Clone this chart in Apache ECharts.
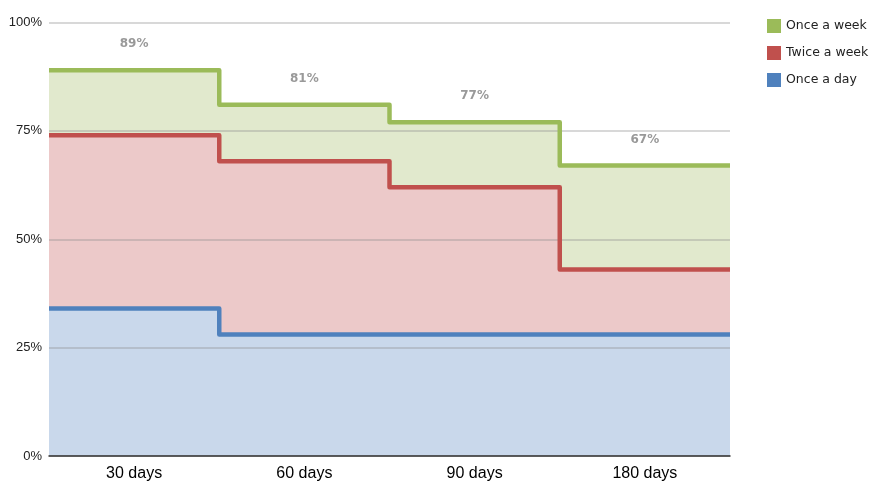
<!DOCTYPE html>
<html>
<head>
<meta charset="utf-8">
<script src="https://cdn.jsdelivr.net/npm/echarts@6/dist/echarts.min.js"></script>
<style>html,body{margin:0;padding:0;background:#fff;}#c{width:877px;height:484px;}</style>
</head>
<body>
<div id="c"></div>
<script>
const categories = ['30 days', '60 days', '90 days', '180 days'];
const onceADay = [34, 28, 28, 28];
const twiceAWeek = [40, 40, 34, 15];
const onceAWeek = [15, 13, 15, 24];
const yTicks = [0, 25, 50, 75, 100];

// cumulative tops (stack computed here so each area fills down to the axis and lower layers cover it)
const topDay = onceADay.slice();
const topTwice = categories.map((_, i) => onceADay[i] + twiceAWeek[i]);
const topWeek = categories.map((_, i) => onceADay[i] + twiceAWeek[i] + onceAWeek[i]);

function stepData(arr) {
  const d = arr.map((v, i) => [i, v]);
  d.push([arr.length, arr[arr.length - 1]]);
  return d;
}
function areaSeries(name, arr, color, fill) {
  return {
    name: name, type: 'line', xAxisIndex: 1, step: 'end',
    data: stepData(arr), symbol: 'none', showSymbol: false,
    itemStyle: { color: color },
    lineStyle: { width: 0, opacity: 0, color: color },
    areaStyle: { color: fill, opacity: 1 },
    silent: true, z: 0
  };
}
function lineSeries(name, arr, color) {
  return {
    name: name, type: 'line', xAxisIndex: 1, step: 'end',
    data: stepData(arr), symbol: 'none', showSymbol: false,
    lineStyle: { color: color, width: 4.5, join: 'round', cap: 'butt' },
    itemStyle: { color: color },
    z: 3
  };
}
const chart = echarts.init(document.getElementById('c'), null, { renderer: 'canvas' });
chart.setOption({
  animation: false,
  grid: { left: 49, right: 147, top: 22.5, bottom: 28, containLabel: false },
  legend: {
    orient: 'vertical', left: 762, top: 14, itemWidth: 14, itemHeight: 14, itemGap: 13,
    icon: 'rect',
    data: ['Once a week', 'Twice a week', 'Once a day'],
    textStyle: { fontFamily: 'DejaVu Sans', fontSize: 12.5, color: '#222' }
  },
  xAxis: [
    {
      type: 'category', data: categories, boundaryGap: true,
      axisTick: { show: false },
      axisLine: { lineStyle: { color: '#333', width: 1.5 } },
      axisLabel: { fontFamily: 'Liberation Sans', fontSize: 16, color: '#000', margin: 10 },
      splitLine: { show: false }, z: 4
    },
    { type: 'value', min: 0, max: categories.length, show: false }
  ],
  yAxis: {
    type: 'value', min: yTicks[0], max: yTicks[yTicks.length - 1], interval: 25,
    axisLine: { show: false }, axisTick: { show: false },
    axisLabel: { formatter: '{value}%', fontFamily: 'Liberation Sans', fontSize: 13, color: '#222', margin: 7 },
    splitLine: { lineStyle: { color: 'rgba(140,140,140,0.45)', width: 1.5 } },
    z: 1
  },
  series: [
    areaSeries('Once a week', topWeek, '#9bbb59', '#e1e9cd'),
    areaSeries('Twice a week', topTwice, '#c0504d', '#ecc9c9'),
    areaSeries('Once a day', topDay, '#4f81bd', '#c9d8eb'),
    lineSeries('Once a week', topWeek, '#9bbb59'),
    lineSeries('Twice a week', topTwice, '#c0504d'),
    lineSeries('Once a day', topDay, '#4f81bd'),
    {
      name: 'totals', type: 'scatter', xAxisIndex: 1, symbolSize: 0,
      data: topWeek.map((v, i) => [i + 0.5, v]),
      label: {
        show: true, position: 'top', distance: 20,
        formatter: p => p.value[1] + '%',
        fontFamily: 'DejaVu Sans', fontWeight: 'bold', fontSize: 12, color: '#808080'
      },
      z: 4
    }
  ]
});
</script>
</body>
</html>
